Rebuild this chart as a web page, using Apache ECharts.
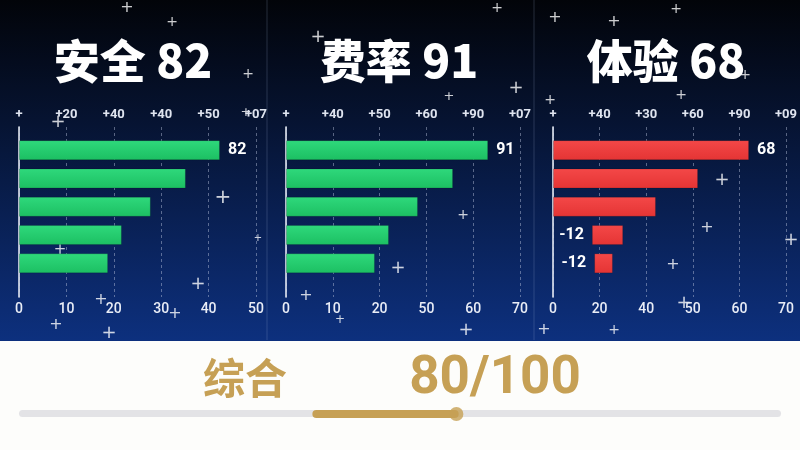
<!DOCTYPE html>
<html>
<head>
<meta charset="utf-8">
<script src="https://cdn.jsdelivr.net/npm/echarts@6/dist/echarts.min.js"></script>
<style>
  html, body { margin: 0; padding: 0; background: #fdfdfb; }
  #chart { width: 800px; height: 450px; }
</style>
</head>
<body>
<div id="chart"></div>
<script>
// panel titles and rows
const panelTitles = ['安全 82', '费率 91', '体验 68'];
const rows = ['a', 'b', 'c', 'd', 'e'];

// bar values (axis units, 10 per tick)
const safetyStart = [0, 0, 0, 0, 0];
const safetyValues = [42.4, 35.2, 27.8, 21.7, 18.8];
const feeStart = [0, 0, 0, 0, 0];
const feeValues = [43.2, 35.7, 28.2, 22.0, 19.0];
const expStart = [0, 0, 0, 8.3, 8.8];
const expValues = [41.9, 31.0, 22.0, 6.7, 4.0];

// value labels on bars
const safetyLabels = ['82', '', '', '', ''];
const feeLabels = ['91', '', '', '', ''];
const expLabels = ['68', '', '', '-12', '-12'];

// tick labels (as printed)
const safetyBottomTicks = ['0', '10', '20', '30', '40', '50'];
const safetyTopTicks = ['+', '+20', '+40', '+40', '+50', '+07'];
const feeBottomTicks = ['0', '10', '20', '50', '60', '70'];
const feeTopTicks = ['+', '+40', '+50', '+60', '+90', '+07'];
const expBottomTicks = ['0', '20', '40', '50', '60', '70'];
const expTopTicks = ['+', '+40', '+30', '+60', '+90', '+09'];

// overall score slider
const scoreText = '80/100';
const sliderTrack = [100];
const sliderStart = [38.5];
const sliderFill = [19.2];
const sliderKnob = [[57.4, 0]];

const panels = [
    { start: safetyStart, values: safetyValues, labels: safetyLabels, bottom: safetyBottomTicks, top: safetyTopTicks, color: ['#2fd97c', '#1cbf62'], left: 19, width: 237 },
    { start: feeStart, values: feeValues, labels: feeLabels, bottom: feeBottomTicks, top: feeTopTicks, color: ['#2fd97c', '#1cbf62'], left: 286, width: 234 },
    { start: expStart, values: expValues, labels: expLabels, bottom: expBottomTicks, top: expTopTicks, color: ['#f44848', '#e43434'], left: 553, width: 234 }
];

const chart = echarts.init(document.getElementById('chart'));

const grid = [], xAxis = [], yAxis = [], series = [];

panels.forEach((p, i) => {
    // decoration grid: axis lines, ticks, dashed lines
    grid.push({ left: p.left, width: p.width, top: 127, height: 170 });
    // bar grid
    grid.push({ left: p.left, width: p.width, top: 136, height: 141.5 });
    const g = i * 2;

    xAxis.push({
        gridIndex: g, type: 'value', min: 0, max: 50, interval: 10, position: 'bottom',
        axisLine: { show: false }, axisTick: { show: false },
        axisLabel: {
            margin: 5, color: '#e9edf6', fontSize: 14, fontWeight: 500, fontFamily: 'Roboto',
            formatter: v => p.bottom[Math.round(v / 10)]
        },
        splitLine: { show: true, lineStyle: { color: 'rgba(190,200,225,0.45)', type: [3, 3], width: 1 } }
    });
    xAxis.push({
        gridIndex: g, type: 'value', min: 0, max: 50, interval: 10, position: 'top',
        axisLine: { show: false }, axisTick: { show: false }, splitLine: { show: false },
        axisLabel: {
            margin: 6, color: '#dfe4ef', fontSize: 13, fontWeight: 'bold', fontFamily: 'Roboto',
            formatter: v => p.top[Math.round(v / 10)]
        }
    });
    xAxis.push({ gridIndex: g + 1, type: 'value', min: 0, max: 50, show: false });

    yAxis.push({
        gridIndex: g, type: 'value', min: 0, max: 1, position: 'left',
        axisLine: { show: true, lineStyle: { color: '#f2f4f8', width: 1.5 } },
        axisTick: { show: false }, axisLabel: { show: false }, splitLine: { show: false }
    });
    yAxis.push({
        gridIndex: g, type: 'value', min: 0, max: 1, position: 'right',
        axisLine: { show: true, lineStyle: { color: 'rgba(190,200,225,0.5)', width: 1 } },
        axisTick: { show: false }, axisLabel: { show: false }, splitLine: { show: false }
    });
    yAxis.push({ gridIndex: g + 1, type: 'category', data: rows, inverse: true, show: false });

    const xb = i * 3 + 2;
    const yb = i * 3 + 2;
    series.push({
        type: 'bar', xAxisIndex: xb, yAxisIndex: yb, stack: 's' + i,
        data: p.start, barWidth: 20, silent: true,
        itemStyle: { color: 'transparent' }
    });
    series.push({
        type: 'bar', xAxisIndex: xb, yAxisIndex: yb, stack: 's' + i,
        barWidth: 20,
        itemStyle: {
            color: new echarts.graphic.LinearGradient(0, 0, 0, 1, [
                { offset: 0, color: p.color[0] }, { offset: 1, color: p.color[1] }
            ]),
            borderColor: 'rgba(0,0,0,0.15)', borderWidth: 1
        },
        data: p.values.map((v, k) => ({
            value: v,
            label: {
                show: p.labels[k] !== '',
                position: k === 0 ? 'right' : 'left',
                distance: 8,
                formatter: p.labels[k],
                color: '#ffffff', fontSize: 16, fontWeight: 'bold', fontFamily: 'Roboto'
            }
        }))
    });
});

// slider grid
grid.push({ left: 19, width: 762, top: 404, height: 20 });
xAxis.push({ gridIndex: 6, type: 'value', min: 0, max: 100, show: false });
yAxis.push({ gridIndex: 6, type: 'category', data: ['s'], show: false });
series.push({
    type: 'bar', xAxisIndex: 9, yAxisIndex: 9, data: sliderTrack, barWidth: 7, barGap: '-100%',
    itemStyle: { color: '#e3e3e6', borderRadius: 4 }, silent: true, z: 1
});
series.push({
    type: 'bar', xAxisIndex: 9, yAxisIndex: 9, stack: 'slider', data: sliderStart, barWidth: 8,
    itemStyle: { color: 'transparent' }, silent: true, z: 2
});
series.push({
    type: 'bar', xAxisIndex: 9, yAxisIndex: 9, stack: 'slider', data: sliderFill, barWidth: 8,
    itemStyle: { color: '#c6a055', borderRadius: 4 }, silent: true, z: 2
});
series.push({
    type: 'scatter', xAxisIndex: 9, yAxisIndex: 9, data: sliderKnob, symbolSize: 14,
    itemStyle: { color: '#c6a055' }, silent: true, z: 3
});

// sparkle decorations
const sparkles = [
    [127, 8, 16], [172, 22, 14], [248, 74, 14], [246, 113, 13], [318, 37, 18], [497, 8, 14],
    [516, 88, 18], [449, 97, 13], [555, 18, 16], [614, 22, 16], [676, 9, 14], [681, 95, 14],
    [745, 75, 14], [58, 122, 18], [223, 198, 20], [60, 250, 15], [101, 300, 16], [198, 284, 18],
    [175, 314, 16], [109, 333, 18], [56, 325, 16], [398, 268, 18], [306, 296, 16], [463, 215, 14],
    [466, 330, 18], [722, 180, 18], [707, 228, 16], [673, 265, 16], [684, 303, 18], [544, 330, 16],
    [614, 330, 14], [791, 240, 18], [550, 100, 14], [258, 238, 10], [340, 320, 12]
];

const graphic = [
    {
        type: 'rect', left: 0, top: 0, z: -10, silent: true,
        shape: { width: 800, height: 341 },
        style: {
            fill: new echarts.graphic.LinearGradient(0, 0, 0, 1, [
                { offset: 0, color: '#020409' },
                { offset: 0.35, color: '#061331' },
                { offset: 1, color: '#0d307e' }
            ])
        }
    },
    { type: 'line', z: -9, silent: true, shape: { x1: 267, y1: 0, x2: 267, y2: 340 }, style: { stroke: 'rgba(170,185,220,0.22)', lineWidth: 1 } },
    { type: 'line', z: -9, silent: true, shape: { x1: 534, y1: 0, x2: 534, y2: 340 }, style: { stroke: 'rgba(170,185,220,0.22)', lineWidth: 1 } }
];

[133, 399, 666].forEach((cx, i) => {
    graphic.push({
        type: 'text', x: cx, y: 61, z: 10, silent: true,
        style: {
            text: panelTitles[i], fill: '#ffffff', align: 'center', verticalAlign: 'middle',
            font: '900 46px "Noto Sans CJK SC", sans-serif'
        }
    });
});

sparkles.forEach(s => {
    graphic.push({
        type: 'text', x: s[0], y: s[1], z: -5, silent: true,
        style: {
            text: '+', fill: 'rgba(255,255,255,0.8)', align: 'center', verticalAlign: 'middle',
            font: s[2] + 'px "DejaVu Sans"'
        }
    });
});

graphic.push({
    type: 'text', x: 245, y: 378, silent: true,
    style: { text: '综合', fill: '#c6a055', align: 'center', verticalAlign: 'middle', font: 'bold 42px "Noto Sans CJK SC"' }
});
graphic.push({
    type: 'text', x: 495, y: 380, silent: true,
    style: { text: scoreText, fill: '#c6a055', align: 'center', verticalAlign: 'middle', font: 'bold 53px Roboto' }
});

chart.setOption({
    backgroundColor: '#fdfdfb',
    animation: false,
    grid: grid,
    xAxis: xAxis,
    yAxis: yAxis,
    series: series,
    graphic: graphic
});
</script>
</body>
</html>
